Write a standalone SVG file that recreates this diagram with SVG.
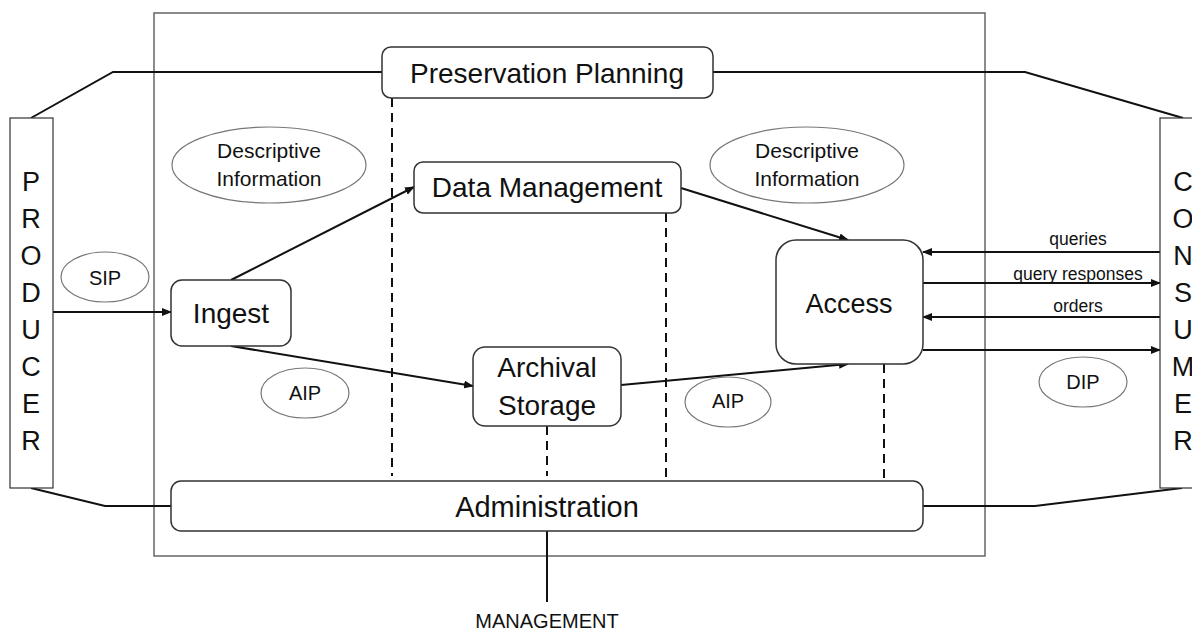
<svg xmlns="http://www.w3.org/2000/svg" width="1192" height="631" viewBox="0 0 1192 631">
<style>
text{font-family:"Liberation Sans",Arial,sans-serif;fill:#111;text-anchor:middle}
.box{fill:#fff;stroke:#333;stroke-width:1.5}
.ell{fill:#fff;stroke:#777;stroke-width:1.2}
.ln{fill:none;stroke:#111;stroke-width:2}
.dash{fill:none;stroke:#111;stroke-width:2;stroke-dasharray:9 6}
.big{font-size:28px}
.mid{font-size:21px}
.tag{font-size:20px}
.sm{font-size:17.5px}
.let{font-size:27px}
</style>
<defs>
<marker id="ah" markerWidth="10" markerHeight="8" refX="9" refY="4" orient="auto" markerUnits="userSpaceOnUse">
<path d="M0,0 L10,4 L0,8 Z" fill="#111"/>
</marker>
</defs>
<rect width="1192" height="631" fill="#fff"/>
<rect id="archive" x="154" y="13" width="831" height="543" fill="none" stroke="#666" stroke-width="1.5"/>
<g id="connectors">
<polyline class="ln" points="31,118 113,72 382,72"/>
<polyline class="ln" points="713,72 1025,72 1183,118"/>
<polyline class="ln" points="31,488 105,506 171,506"/>
<polyline class="ln" points="923,506 1035,506 1182,488"/>
<line class="ln" x1="53" y1="312" x2="171" y2="312" marker-end="url(#ah)"/>
<line class="ln" x1="231" y1="280" x2="414" y2="187" marker-end="url(#ah)"/>
<line class="ln" x1="231" y1="346" x2="473" y2="386" marker-end="url(#ah)"/>
<line class="ln" x1="681" y1="188" x2="848" y2="240" marker-end="url(#ah)"/>
<line class="ln" x1="621" y1="385" x2="848" y2="364" marker-end="url(#ah)"/>
<line class="ln" x1="1160" y1="252" x2="923" y2="252" marker-end="url(#ah)"/>
<line class="ln" x1="923" y1="283" x2="1160" y2="283" marker-end="url(#ah)"/>
<line class="ln" x1="1160" y1="317" x2="923" y2="317" marker-end="url(#ah)"/>
<line class="ln" x1="923" y1="350" x2="1160" y2="350" marker-end="url(#ah)"/>
<line class="dash" x1="392" y1="98" x2="392" y2="476"/>
<line class="dash" x1="547" y1="426" x2="547" y2="476"/>
<line class="dash" x1="666" y1="213" x2="666" y2="481"/>
<line class="dash" x1="884" y1="364" x2="884" y2="481"/>
<line class="ln" x1="547" y1="531" x2="547" y2="602"/>
<text class="sm" x="1078" y="245">queries</text>
<text class="sm" x="1078" y="280">query responses</text>
<text class="sm" x="1078" y="312">orders</text>
</g>
<g id="producer">
<rect x="10" y="118" width="43" height="370" fill="#fff" stroke="#333" stroke-width="1.2"/>
<text class="let" x="31" y="191">P</text>
<text class="let" x="31" y="228">R</text>
<text class="let" x="31" y="265">O</text>
<text class="let" x="31" y="302">D</text>
<text class="let" x="31" y="339">U</text>
<text class="let" x="31" y="376">C</text>
<text class="let" x="31" y="413">E</text>
<text class="let" x="31" y="450">R</text>
</g>
<g id="consumer">
<rect x="1160" y="118" width="40" height="370" fill="#fff" stroke="#333" stroke-width="1.2"/>
<text class="let" x="1183" y="191">C</text>
<text class="let" x="1183" y="228">O</text>
<text class="let" x="1183" y="265">N</text>
<text class="let" x="1183" y="302">S</text>
<text class="let" x="1183" y="339">U</text>
<text class="let" x="1183" y="376">M</text>
<text class="let" x="1183" y="413">E</text>
<text class="let" x="1183" y="450">R</text>
</g>
<g id="preservation-planning">
<rect class="box" x="382" y="47" width="331" height="51" rx="9"/>
<text class="big" x="547" y="83">Preservation Planning</text>
</g>
<g id="data-management">
<rect class="box" x="414" y="162" width="267" height="51" rx="9"/>
<text class="big" x="547" y="197">Data Management</text>
</g>
<g id="ingest">
<rect class="box" x="171" y="280" width="120" height="66" rx="11"/>
<text class="big" x="231" y="323">Ingest</text>
</g>
<g id="archival-storage">
<rect class="box" x="473" y="347" width="148" height="79" rx="12"/>
<text class="big" x="547" y="377">Archival</text>
<text class="big" x="547" y="415">Storage</text>
</g>
<g id="access">
<rect class="box" x="776" y="240" width="147" height="124" rx="20"/>
<text class="big" x="849" y="313" style="font-size:27px">Access</text>
</g>
<g id="administration">
<rect class="box" x="171" y="481" width="752" height="50" rx="10"/>
<text class="big" x="547" y="517" style="font-size:29px">Administration</text>
</g>
<g id="desc-info-left">
<ellipse class="ell" cx="269" cy="165" rx="97" ry="38"/>
<text class="mid" x="269" y="158">Descriptive</text>
<text class="mid" x="269" y="186">Information</text>
</g>
<g id="desc-info-right">
<ellipse class="ell" cx="807" cy="165" rx="97" ry="38"/>
<text class="mid" x="807" y="158">Descriptive</text>
<text class="mid" x="807" y="186">Information</text>
</g>
<g id="sip">
<ellipse class="ell" cx="105" cy="277" rx="44" ry="25"/>
<text class="tag" x="105" y="285">SIP</text>
</g>
<g id="aip-left">
<ellipse class="ell" cx="305" cy="393" rx="44" ry="25"/>
<text class="tag" x="305" y="400">AIP</text>
</g>
<g id="aip-right">
<ellipse class="ell" cx="728" cy="402" rx="43" ry="25"/>
<text class="tag" x="728" y="408">AIP</text>
</g>
<g id="dip">
<ellipse class="ell" cx="1083" cy="382" rx="44" ry="25"/>
<text class="tag" x="1083" y="389">DIP</text>
</g>
<g id="management">
<text class="tag" x="547" y="628">MANAGEMENT</text>
</g>
</svg>
